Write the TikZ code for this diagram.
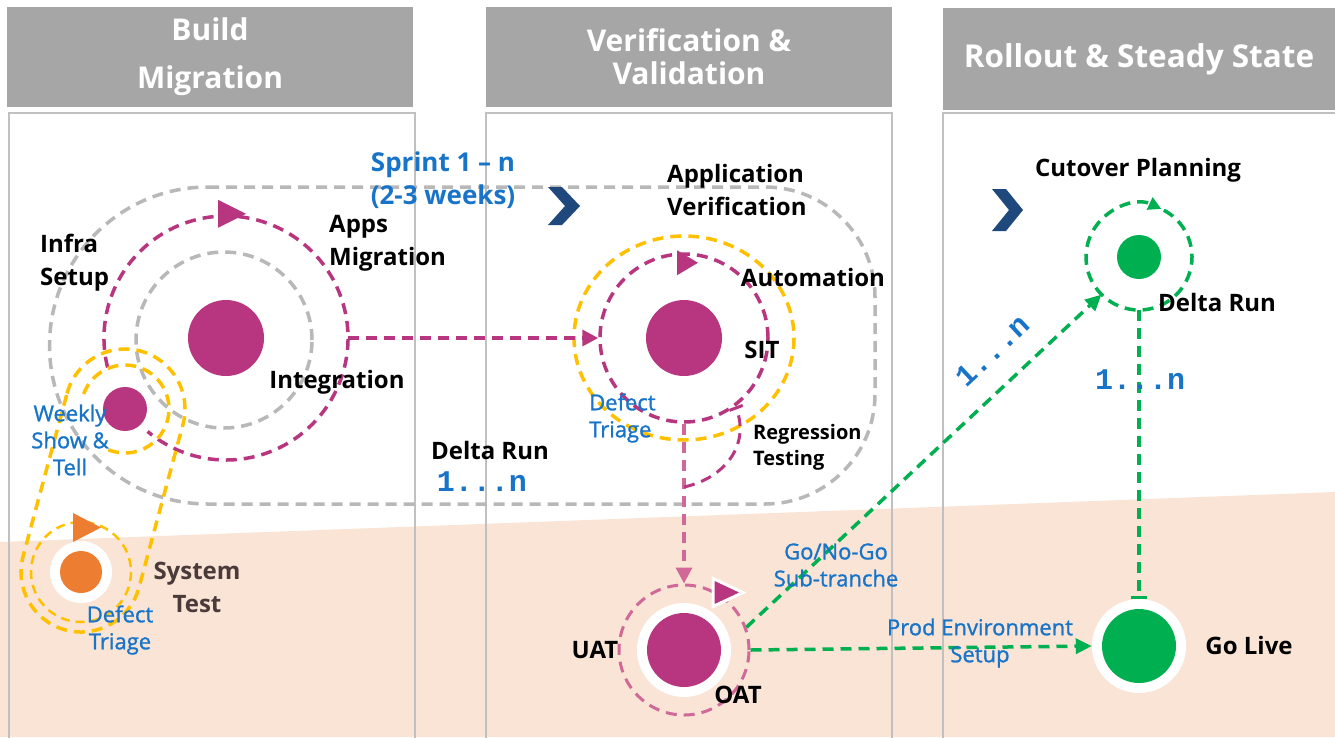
\documentclass[tikz,border=0pt]{standalone}
\usepackage{fontspec}
\setmainfont{Open Sans}
\newfontfamily\cntfont{Liberation Mono}
\newfontfamily\notefont{Open Sans}[BoldFont={Open Sans},BoldFeatures={FakeBold=1.2}]
\usetikzlibrary{arrows.meta,positioning,calc}

\definecolor{hdrgray}{RGB}{166,166,166}
\definecolor{framegray}{RGB}{192,192,192}
\definecolor{loopgray}{RGB}{184,184,184}
\definecolor{magdot}{RGB}{184,54,127}
\definecolor{pinkring}{RGB}{208,104,152}
\definecolor{peach}{RGB}{250,228,214}
\definecolor{amber}{RGB}{255,192,0}
\definecolor{orangedot}{RGB}{237,125,49}
\definecolor{golive}{RGB}{0,176,80}
\definecolor{noteblue}{RGB}{24,116,200}
\definecolor{navy}{RGB}{31,73,125}
\definecolor{brownish}{RGB}{74,58,58}

\begin{document}
\begin{tikzpicture}[x=1pt,y=-1pt,
    hdr/.style={fill=hdrgray,minimum width=406pt,minimum height=100pt,inner sep=0pt,
      text=white,align=center,font=\fontsize{30}{36}\selectfont\bfseries},
    frame/.style={draw=framegray,line width=1.5pt},
    dsh/.style={line width=3.5pt,dash pattern=on 11pt off 7pt},
    ring/.style={circle,draw=#1,dsh,inner sep=0pt},
    dot/.style={circle,fill=#1,inner sep=0pt},
    halo/.style={circle,fill=white,inner sep=0pt},
    lbl/.style={inner sep=0pt,align=center,font=\fontsize{24}{33}\selectfont\bfseries},
    note/.style={inner sep=0pt,align=center,text=noteblue,font=\notefont\bfseries\fontsize{22}{27}\selectfont},
    cnt/.style={inner sep=0pt,text=noteblue,font=\cntfont\bfseries\fontsize{30}{30}\selectfont},
    tri/.style={-{Triangle[length=16pt,width=16pt]}}
]
\useasboundingbox (0,0) rectangle (1335,737);
\clip (0,0) rectangle (1335,737);
\fill[white] (0,0) rectangle (1335,737);
\fill[peach] (0,542) -- (1335,492) -- (1335,737) -- (0,737) -- cycle;

% columns and headers
\draw[frame] (9,113) rectangle (415,760);
\draw[frame] (486,113) rectangle (892,760);
\draw[frame] (943,113) rectangle (1350,760);
\node[hdr] (hbuild) at (210,57) {Build\\[12pt]Migration};
\node[hdr,font=\fontsize{30}{33}\selectfont\bfseries] (hverif) at (689,57) {Verification \&\\Validation};
\node[hdr,minimum width=392pt,minimum height=102pt,font=\fontsize{31.5}{36}\selectfont\bfseries] (hroll) at (1139,59) {Rollout \& Steady State};

% sprint loop
\draw[loopgray,dsh] (208,187) -- (765,187) arc (-90:0:110) -- (875,394)
    arc (0:90:110) -- (208,504) arc (90:270:158.5);
\fill[navy] (548,187) -- (562,187) -- (580,206) -- (562,225) -- (548,225) -- (565,206) -- cycle;
\fill[navy] (992,189) -- (1006,189) -- (1023,210) -- (1006,231) -- (992,231) -- (1009,210) -- cycle;

% build migration
\node[ring=loopgray,minimum size=176pt] (intgray) at (224,340) {};
\node[circle,minimum size=244pt,inner sep=0pt] (intring) at (226,338) {};
\draw[magdot,dsh] (intring.center) ++(166:122) arc (166:490:122);
\fill[magdot] (intring.north) ++(-8,-16) -- ++(0,28) -- ++(28,-14) -- cycle;
\node[dot=magdot,minimum size=76pt] (intdot) at (226,338) {};

\node[dot=magdot,minimum size=44pt] (showdot) at (125,409) {};
\draw[amber,dsh] (showdot.center) ++(200:44) arc (200:480:44);
\node[halo,minimum size=62pt] (testhalo) at (81,572) {};
\node[dot=orangedot,minimum size=42pt] (testdot) at (81,572) {};
\draw[amber,line width=2.5pt,dash pattern=on 9pt off 6pt] (testdot.center) circle (50);
\draw[amber,dsh] ($(showdot.center)+(195:60)$) arc (195:375:60)
    -- ($(testdot.center)+(15:60)$) arc (15:195:60) -- cycle;
\fill[orangedot] (testdot.center) ++(-8,-59) -- ++(0,29) -- ++(28,-14.5) -- cycle;

\node[lbl,align=left,anchor=west] (infra) at (40,263) {Infra\\Setup};
\node[lbl,align=left,anchor=west] (apps) at (329,243) {Apps\\Migration};
\node[lbl] (integ) at (337,382) {Integration};
\node[note] (weekly) at (70,440) {Weekly\\Show \&\\Tell};
\node[lbl,text=brownish] (systest) at (197,587) {System\\Test};
\node[note] (triage1) at (120,630) {Defect\\Triage};
\node[inner sep=0pt,align=center,text=noteblue,font=\fontsize{26}{33}\selectfont\bfseries] (sprint) at (443,180) {Sprint 1 -- n\\(2-3 weeks)};

% verification and validation
\draw[amber,dsh] (684,338) ellipse (110 and 102);
\node[ring=magdot,minimum size=168pt] (sitring) at (684,338) {};
\node[dot=magdot,minimum size=76pt] (sitdot) at (684,338) {};
\fill[magdot] (sitring.north) ++(-7,-2) -- ++(0,25) -- ++(21,-12.5) -- cycle;
\node[ring=pinkring,line width=3pt,minimum size=130pt] (uatring) at (684,650) {};
\node[halo,minimum size=94pt] (uathalo) at (684,650) {};
\node[dot=magdot,minimum size=74pt] (uatdot) at (684,650) {};
\filldraw[fill=magdot,draw=white,line width=3pt] (uatring.north) ++(29,-5) -- ++(0,28) -- ++(30,-14) -- cycle;

\draw[magdot,dsh,tri] (intring.east) -- (sitring.west);
\draw[pinkring,dsh,tri] (sitring.south) -- (uatring.north);
\coordinate (regin) at (684,487);
\draw[magdot,dsh,line width=3pt,-{Bar[width=14pt,line width=3pt]}] (regin) .. controls (725,478) and (750,445) .. (sitring.-53);

\node[lbl,align=left,anchor=west] (appver) at (667,190) {Application\\Verification};
\node[lbl] (autom) at (813,277) {Automation};
\node[lbl] (sit) at (762,350) {SIT};
\node[note,align=left,anchor=west] (triage2) at (589,418) {Defect\\Triage};
\node[lbl,align=left,anchor=west,font=\fontsize{20}{26}\selectfont\bfseries] (regress) at (753,447) {Regression\\Testing};
\node[lbl] (delta1) at (490,450) {Delta Run};
\node[cnt] (cnt1) at (482,482) {1...n};
\node[lbl] (uat) at (595,650) {UAT};
\node[lbl] (oat) at (738,695) {OAT};

% rollout and steady state
\node[circle,minimum size=106pt,inner sep=0pt] (deltaring) at (1139,257) {};
\draw[golive,dsh,-{Triangle[length=13pt,width=13pt]}] ($(deltaring.center)+(-62:53)$) arc (-62:295:53);
\node[dot=golive,minimum size=44pt] (deltadot) at (1139,257) {};
\node[halo,minimum size=94pt] (livehalo) at (1139,646) {};
\node[dot=golive,minimum size=74pt] (livedot) at (1139,646) {};

\draw[golive,dsh,-{Triangle[length=16pt,width=15pt]}] (uatring.20) -- node[cnt,pos=0.757,sloped,above=22pt] (cnt2) {1...n} (deltaring.south west);
\draw[golive,dsh,-{Triangle[length=16pt,width=15pt]}] (uatring.east) -- (livehalo.west);
\draw[golive,dsh,-{Bar[width=16pt,line width=3pt]}] (deltaring.south) -- (livehalo.north);

\node[note] (gonogo) at (836,565) {Go/No-Go\\Sub-tranche};
\node[note] (prodenv) at (980,643) {Prod Environment\\Setup};
\node[lbl] (cutover) at (1138,170) {Cutover Planning};
\node[lbl] (delta2) at (1217,302) {Delta Run};
\node[cnt] (cnt3) at (1140,380) {1...n};
\node[lbl] (live) at (1249,645) {Go Live};
\end{tikzpicture}
\end{document}
